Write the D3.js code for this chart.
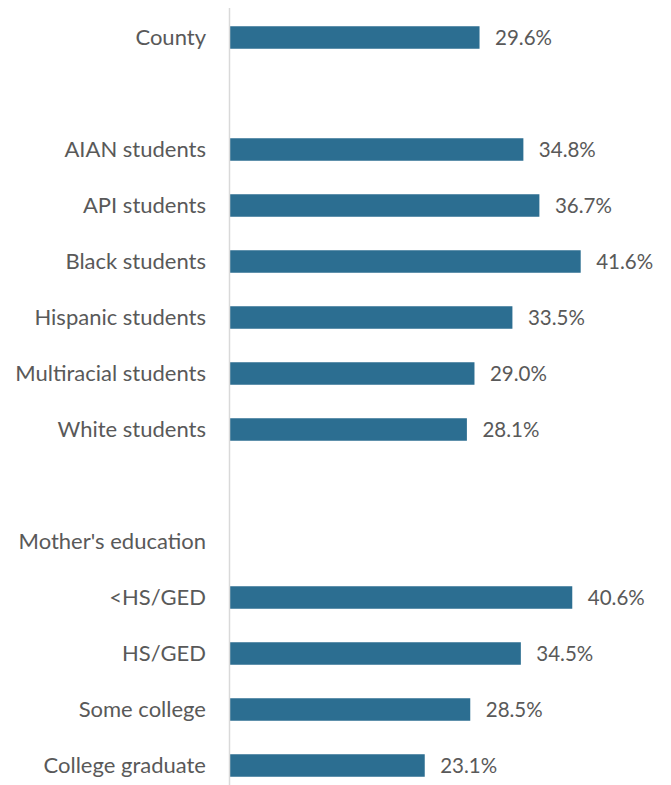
<!DOCTYPE html>
<html><head><meta charset="utf-8">
<script src="https://cdn.jsdelivr.net/npm/d3@7"></script>
<style>html,body{margin:0;padding:0;background:#fff;}</style>
</head><body>
<svg id="chart" width="671" height="785"></svg>
<script>
const categories = ["County", "", "AIAN students", "API students", "Black students", "Hispanic students", "Multiracial students", "White students", " ", "Mother's education", "<HS/GED", "HS/GED", "Some college", "College graduate"];
const values = [29.6, null, 34.8, 36.7, 41.6, 33.5, 29.0, 28.1, null, null, 40.6, 34.5, 28.5, 23.1];
const labels = ["29.6%", "", "34.8%", "36.7%", "41.6%", "33.5%", "29.0%", "28.1%", "", "", "40.6%", "34.5%", "28.5%", "23.1%"];

const data = categories.map((c, i) => ({cat: c, key: "k" + i, v: values[i], label: labels[i]}));
const svg = d3.select("#chart");
const x0 = 230;
const x = d3.scaleLinear().domain([0, 41.6]).range([x0, 580.7]);
const yc = d3.scaleBand().domain(data.map(d => d.key)).range([9.5, 793.5]);
const font = "Lato, 'Open Sans', sans-serif";
const color = "#595959";

svg.append("g").selectAll("rect").data(data.filter(d => d.v != null)).join("rect")
  .attr("x", x(0)).attr("width", d => x(d.v) - x(0))
  .attr("y", d => yc(d.key) + yc.bandwidth()/2 - 11.25).attr("height", 22.5)
  .attr("fill", "#2C6E91");

svg.append("line").attr("x1", 229.5).attr("x2", 229.5).attr("y1", 8).attr("y2", 785)
  .attr("stroke", "#d9d9d9").attr("stroke-width", 1.5);

svg.append("g").selectAll("text").data(data.filter(d => d.cat.trim() !== "")).join("text")
  .attr("x", 206).attr("y", d => yc(d.key) + yc.bandwidth()/2)
  .attr("dy", "0.35em").attr("text-anchor", "end")
  .attr("font-family", font).attr("font-size", 22).attr("fill", color)
  .text(d => d.cat);

svg.append("g").selectAll("text").data(data.filter(d => d.v != null)).join("text")
  .attr("x", d => x(d.v) + 15.5).attr("y", d => yc(d.key) + yc.bandwidth()/2)
  .attr("dy", "0.35em")
  .attr("font-family", font).attr("font-size", 20.5).attr("fill", color)
  .text(d => d.label);
</script>
</body></html>
